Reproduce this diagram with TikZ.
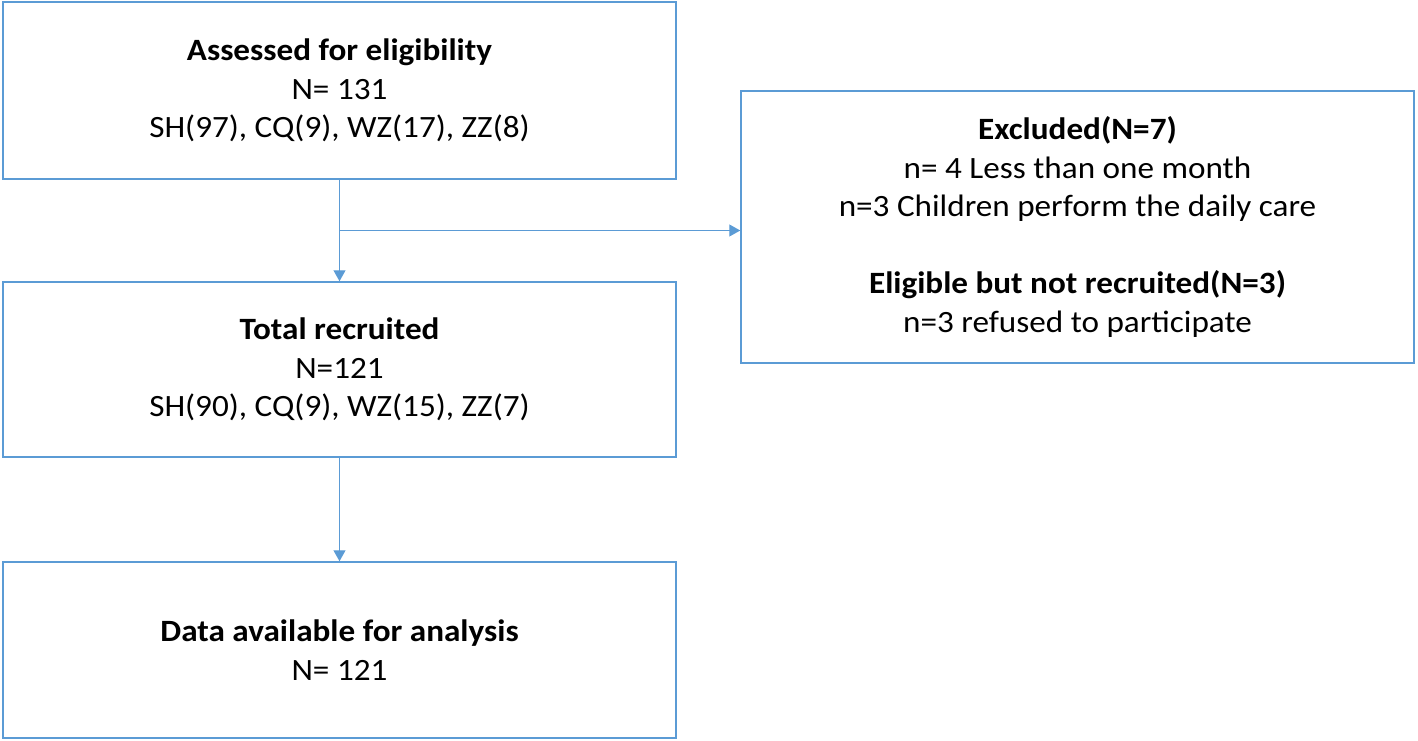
\documentclass[tikz,border=0pt]{standalone}
\usepackage{fontspec}
\setmainfont{Carlito}[FakeStretch=1.07]
\usetikzlibrary{arrows.meta,calc}
\definecolor{lineblue}{RGB}{91,155,213}
\begin{document}
\begin{tikzpicture}[x=1pt,y=-1pt,
  box/.style={draw=lineblue,line width=1.5pt,minimum width=673pt,inner sep=0pt,align=center,
    font=\fontsize{31}{38.5}\selectfont},
  arr/.style={draw=lineblue,line width=1.2pt,-{Triangle[width=12pt,length=11pt]}}]
\useasboundingbox (0,0) rectangle (1418,741);
\node[box,minimum height=177pt] (b1) at (339.5,90.5) {\textbf{Assessed for eligibility}\\N= 131\\SH(97), CQ(9), WZ(17), ZZ(8)};
\node[box,minimum height=272pt] (b2) at (1077.5,227) {\textbf{Excluded(N=7)}\\n= 4 Less than one month\\n=3 Children perform the daily care\\[38.5pt]\textbf{Eligible but not recruited(N=3)}\\n=3 refused to participate};
\node[box,minimum height=175pt] (b3) at (339.5,369.5) {\textbf{Total recruited}\\N=121\\SH(90), CQ(9), WZ(15), ZZ(7)};
\node[box,minimum height=176pt] (b4) at (339.5,650) {\textbf{Data available for analysis}\\N= 121};
\coordinate (br) at ($(b1.south)!0.5!(b3.north)$);
\draw[arr] (b1.south) -- (b3.north);
\draw[arr] (br) -- (br -| b2.west);
\draw[arr] (b3.south) -- (b4.north);
\end{tikzpicture}
\end{document}
